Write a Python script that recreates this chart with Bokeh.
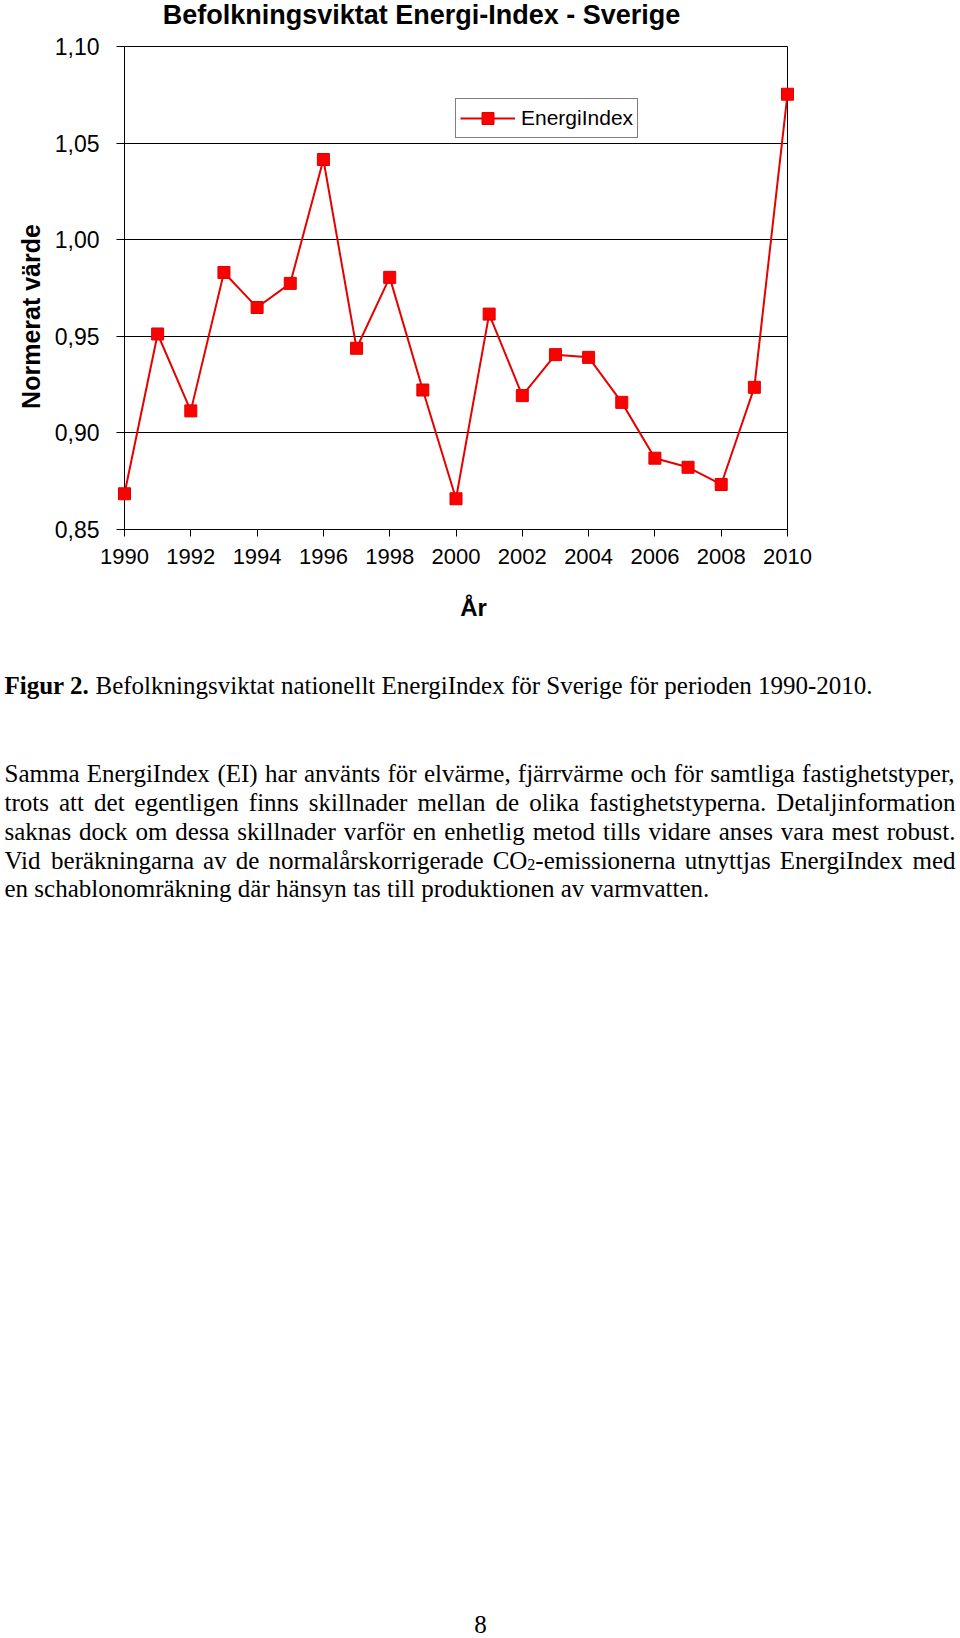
import math
from bokeh.plotting import figure
from bokeh.models import (Range1d, FixedTicker, Legend, LegendItem,
                          ColumnDataSource)
from bokeh.embed import file_html
from bokeh.resources import INLINE
from bokeh.core.properties import value

# ---------------- data ----------------
years = list(range(1990, 2011))
energi_index = [0.8685, 0.9512, 0.9114, 0.9830, 0.9649, 0.9774, 1.0415,
                0.9438, 0.9805, 0.9222, 0.8659, 0.9615, 0.9193, 0.9405,
                0.9391, 0.9158, 0.8869, 0.8822, 0.8733, 0.9236, 1.0753]
x_ticks = [1990, 1992, 1994, 1996, 1998, 2000, 2002, 2004, 2006, 2008, 2010]
y_ticks = [0.85, 0.90, 0.95, 1.00, 1.05, 1.10]
y_tick_labels = ["0,85", "0,90", "0,95", "1,00", "1,05", "1,10"]
series_name = "EnergiIndex"
title_text = "Befolkningsviktat Energi-Index - Sverige"
y_label_text = "Normerat värde"
x_label_text = "År"

caption_bold = "Figur 2."
caption_rest = "Befolkningsviktat nationellt EnergiIndex för Sverige för perioden 1990-2010."
paragraph_lines = [
    "Samma EnergiIndex (EI) har använts för elvärme, fjärrvärme och för samtliga fastighetstyper,",
    "trots att det egentligen finns skillnader mellan de olika fastighetstyperna. Detaljinformation",
    "saknas dock om dessa skillnader varför en enhetlig metod tills vidare anses vara mest robust.",
    "Vid beräkningarna av de normalårskorrigerade CO_{2}-emissionerna utnyttjas EnergiIndex med",
    "en schablonomräkning där hänsyn tas till produktionen av varmvatten.",
]
page_number = "8"

# ---------------- figure ----------------
W, H = 960, 1638
FL, FT = 124, 46            # frame left / top (page px)
FRX, FBY = 787, 529         # frame right / bottom (page px)
SH = 8.5                    # baseline correction for text glyphs

src = ColumnDataSource(dict(x=years, y=energi_index))

p = figure(width=W, height=H, output_backend="svg", toolbar_location=None,
           x_range=Range1d(1990, 2010), y_range=Range1d(0.85, 1.10),
           min_border_left=FL, min_border_right=W - FRX, min_border_top=FT,
           min_border_bottom=H - FBY, background_fill_color="white",
           border_fill_color="white")
p.outline_line_color = "black"
p.outline_line_width = 1

# pixel-space ranges for the texts around the chart
p.extra_x_ranges = {"px": Range1d(FL, FRX)}
p.extra_y_ranges = {"py": Range1d(FBY, FT)}

p.xaxis.ticker = FixedTicker(ticks=x_ticks)
p.yaxis.ticker = FixedTicker(ticks=y_ticks)
p.yaxis.major_label_overrides = dict(zip(y_ticks, y_tick_labels))
for ax in (p.xaxis[0], p.yaxis[0]):
    ax.axis_line_color = "black"
    ax.axis_line_width = 1
    ax.major_tick_line_color = "black"
    ax.major_tick_in = 0
    ax.minor_tick_line_color = None
    ax.major_label_text_font = "Liberation Sans"
    ax.major_label_text_color = "black"
p.xaxis.major_label_text_font_size = "22px"
p.yaxis.major_label_text_font_size = "23px"
p.xaxis.major_tick_out = 7
p.yaxis.major_tick_out = 8
p.xaxis.major_label_standoff = 12
p.yaxis.major_label_standoff = 17

p.xgrid.grid_line_color = None
p.ygrid.ticker = FixedTicker(ticks=y_ticks)
p.ygrid.grid_line_color = "black"
p.ygrid.grid_line_width = 1

line_r = p.line("x", "y", source=src, line_color="#E60000", line_width=2,
                level="overlay")
sc_r = p.scatter("x", "y", source=src, marker="square", size=12,
                 fill_color="#FF0000", line_color="#E00000", line_width=1,
                 level="overlay")

legend = Legend(items=[LegendItem(label=series_name, renderers=[line_r, sc_r])],
                location=(331, 391))
legend.border_line_color = "black"
legend.border_line_width = 1
legend.background_fill_color = "white"
legend.background_fill_alpha = 1
legend.padding = 4
legend.margin = 0
legend.spacing = 0
legend.glyph_width = 55
legend.glyph_height = 30
legend.label_height = 30
legend.label_standoff = 6
legend.label_text_font = "Liberation Sans"
legend.label_text_font_size = "21px"
legend.label_text_color = "black"
p.add_layout(legend)


def page_text(xs, ys, texts, font, size, style="normal", align="left",
              angle=0.0):
    p.text(x=xs, y=ys, text=texts, angle=angle,
           text_font=value(font), text_font_size=value(size),
           text_font_style=style, text_align=align,
           text_baseline="alphabetic", text_color="black",
           x_range_name="px", y_range_name="py", level="overlay")


# chart titles
page_text([421], [23 - SH], [title_text], "Liberation Sans", "27px", "bold", "center")
page_text([39 - SH], [316], [y_label_text], "Liberation Sans", "25px", "bold",
          "center", angle=math.pi / 2)
page_text([473], [615 - SH], [x_label_text], "Liberation Sans", "24px", "bold", "center")

# ---------------- text block ----------------
TIMES = {' ': 250, ',': 250, '.': 250, '-': 333, '(': 333, ')': 333,
         'A': 722, 'B': 667, 'C': 667, 'D': 722, 'E': 611, 'F': 556, 'G': 722,
         'H': 722, 'I': 333, 'J': 389, 'K': 722, 'L': 611, 'M': 889, 'N': 722,
         'O': 722, 'P': 556, 'Q': 722, 'R': 667, 'S': 556, 'T': 611, 'U': 722,
         'V': 722, 'W': 944, 'X': 722, 'Y': 722, 'Z': 611,
         'a': 444, 'b': 500, 'c': 444, 'd': 500, 'e': 444, 'f': 333, 'g': 500,
         'h': 500, 'i': 278, 'j': 278, 'k': 500, 'l': 278, 'm': 778, 'n': 500,
         'o': 500, 'p': 500, 'q': 500, 'r': 333, 's': 389, 't': 278, 'u': 500,
         'v': 500, 'w': 722, 'x': 500, 'y': 500, 'z': 444,
         'å': 444, 'ä': 444, 'ö': 500}
TIMES_BOLD = {' ': 250, '.': 250, '2': 500, 'F': 611, 'i': 278, 'g': 500,
              'u': 556, 'r': 444}

FS = 25
SUB_FS = 16
LEFT, RIGHT = 4, 955


def width(s, size, table=TIMES):
    return sum(table.get(c, 500) for c in s) * size / 1000.0


def parse_word(word):
    segs, buf, i = [], "", 0
    while i < len(word):
        if word.startswith("_{", i):
            if buf:
                segs.append((buf, False))
                buf = ""
            j = word.index("}", i)
            segs.append((word[i + 2:j], True))
            i = j + 1
        else:
            buf += word[i]
            i += 1
    if buf:
        segs.append((buf, False))
    return segs


norm = dict(x=[], y=[], text=[])
sub = dict(x=[], y=[], text=[])

base0 = 781.7 - SH
step = 28.8
for li, line in enumerate(paragraph_lines):
    words = [parse_word(w) for w in line.split(" ")]
    wws = [sum(width(t, SUB_FS if s else FS) for t, s in w) for w in words]
    justify = li < len(paragraph_lines) - 1
    if justify and len(words) > 1:
        gap = (RIGHT - LEFT - sum(wws)) / (len(words) - 1)
    else:
        gap = width(" ", FS)
    x = LEFT
    yb = base0 + li * step
    for w, ww in zip(words, wws):
        xx = x
        for t, s in w:
            if s:
                sub["x"].append(xx); sub["y"].append(yb + 4); sub["text"].append(t)
                xx += width(t, SUB_FS)
            else:
                norm["x"].append(xx); norm["y"].append(yb); norm["text"].append(t)
                xx += width(t, FS)
        x += ww + gap

cap_y = 693 - SH
rest_x = LEFT + width(caption_bold + " ", FS, TIMES_BOLD)
norm["x"].append(rest_x); norm["y"].append(cap_y); norm["text"].append(caption_rest)

page_text(norm["x"], norm["y"], norm["text"], "Liberation Serif", "25px")
page_text(sub["x"], sub["y"], sub["text"], "Liberation Serif", "16px")
page_text([LEFT], [cap_y], [caption_bold], "Liberation Serif", "25px", "bold")
page_text([480], [1632 - SH], [page_number], "Liberation Serif", "25px", "normal", "center")

open("out.html", "w").write(file_html(p, INLINE))
